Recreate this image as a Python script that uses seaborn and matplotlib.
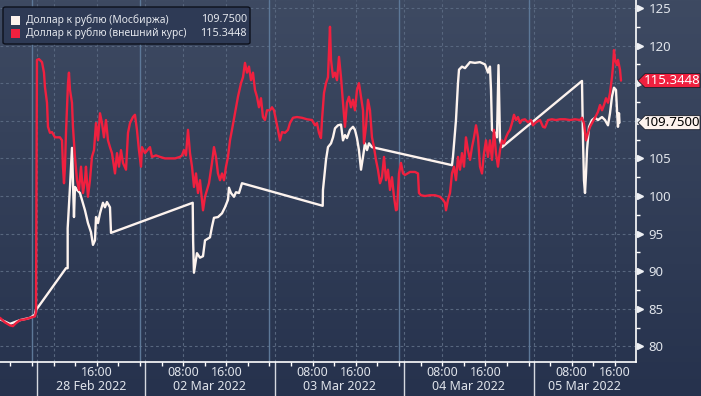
import numpy as np
import pandas as pd
import matplotlib
matplotlib.use("Agg")
import matplotlib.pyplot as plt
import matplotlib.transforms as mtransforms
from matplotlib.patches import Polygon, Rectangle, FancyBboxPatch
import seaborn as sns

# ---------------- data (hours on the session axis; 0 = 02 Mar 00:00) ----------------
moex_t = [-25.9, -24.1, -22.2, -20.4, -19.5, -19.3, -13.71, -13.4, -13.4, -12.97, -12.6, -12.23,
          -12.05, -11.67, -11.12, -10.19, -9.64, -9.08, -8.71, -8.34, -8.15, -7.78, -7.41, -6.86,
          -6.49, -6.12, -5.56, -5.37, 9.77, 9.85, 10.0, 10.56, 11.12, 11.68, 12.05, 12.97, 13.34,
          13.71, 14.45, 15.2, 15.75, 16.31, 16.49, 16.86, 17.42, 17.79, 18.35, 18.9, 33.86, 33.91,
          34.47, 34.84, 35.4, 35.77, 36.14, 36.69, 37.25, 37.62, 37.99, 38.36, 38.92, 39.47, 39.84,
          40.21, 40.58, 40.96, 41.33, 41.7, 42.07, 42.44, 42.99, 57.82, 58.0, 58.56, 58.93, 59.12,
          59.67, 60.23, 61.16, 62.08, 63.0, 63.94, 64.49, 64.86, 65.05, 65.23, 65.79, 66.16, 66.44,
          66.72, 67.09, 81.91, 82.1, 82.28, 82.47, 82.66, 82.84, 83.21, 83.76, 84.32, 84.88, 85.62,
          86.17, 86.73, 87.1, 87.47, 87.84, 88.21, 88.4, 88.58, 88.77, 88.86]
moex_v = [83.6, 83.0, 83.5, 83.8, 84.2, 84.8, 90.4, 90.4, 95.7, 101.2, 106.4, 97.2,
          101.2, 100.8, 100.4, 98.1, 96.4, 95.2, 93.5, 94.1, 97.2, 96.4, 97.7, 99.1,
          98.5, 99.2, 98.5, 95.1, 99.1, 94.0, 89.8, 92.4, 91.8, 92.0, 94.1, 94.5, 95.9,
          97.1, 97.2, 97.7, 98.5, 99.5, 101.1, 100.4, 99.9, 100.5, 100.4, 101.7, 98.7, 100.8,
          104.8, 106.5, 107.0, 107.8, 109.0, 109.4, 109.5, 107.4, 108.1, 107.7, 108.8, 109.2, 108.8,
          107.7, 106.1, 103.5, 105.2, 107.0, 106.1, 107.0, 106.5, 104.1, 105.2, 110.1, 115.0, 116.8,
          117.2, 117.0, 117.8, 117.7, 117.8, 117.5, 116.4, 117.2, 114.1, 108.8, 108.4, 107.8, 117.4,
          107.4, 106.5, 115.3, 107.4, 102.1, 100.4, 103.0, 106.1, 109.2, 110.1, 110.4, 110.1, 110.5,
          110.1, 109.4, 111.0, 113.2, 114.4, 114.1, 111.4, 109.2, 111.0, 109.75]

ext_t = [-25.94, -25.02, -24.09, -23.54, -22.98, -22.24, -21.31, -20.39, -19.46, -19.27, -19.09,
         -18.72, -18.16, -17.79, -17.61, -17.23, -17.05, -16.68, -16.31, -15.75, -14.83, -14.45,
         -14.27, -14.08, -13.9, -13.71, -13.34, -13.16, -12.97, -12.6, -12.42, -12.05, -11.67,
         -11.3, -10.93, -10.56, -10.19, -10.01, -9.64, -9.27, -8.9, -8.52, -8.15, -7.78, -7.41,
         -7.04, -6.67, -6.3, -5.93, -5.56, -5.19, -4.63, -4.26, -3.89, -3.52, -3.15, -2.59, -2.22,
         -1.85, -1.3, -0.93, -0.56, -0.19, 0.19, 0.37, 0.93, 1.85, 2.22, 2.97, 3.71, 4.63, 5.56,
         6.49, 7.41, 7.78, 8.15, 8.52, 8.9, 9.27, 9.64, 10.01, 10.38, 10.75, 11.12, 11.68, 12.05,
         12.42, 12.79, 13.34, 13.71, 14.08, 14.45, 14.83, 15.2, 15.57, 15.94, 16.31, 16.68, 17.05,
         17.61, 18.16, 18.72, 19.09, 19.46, 19.83, 20.2, 20.57, 20.94, 21.31, 21.68, 22.05, 22.42,
         22.79, 23.16, 23.54, 24.09, 24.46, 24.83, 25.2, 25.57, 25.94, 26.32, 26.87, 27.43, 27.8,
         28.35, 29.1, 30.02, 30.95, 31.88, 32.43, 32.8, 33.17, 33.54, 33.73, 34.1, 34.47, 34.84,
         35.21, 35.4, 35.77, 36.14, 36.51, 36.88, 37.25, 37.62, 37.99, 38.36, 38.73, 39.1, 39.47,
         39.84, 40.21, 40.58, 40.96, 41.33, 41.51, 41.88, 42.25, 42.62, 42.99, 43.36, 43.73, 44.1,
         44.48, 44.85, 45.22, 45.59, 45.96, 46.33, 46.7, 47.07, 47.44, 47.63, 48.0, 48.37, 48.74,
         49.11, 50.04, 50.96, 51.52, 51.7, 52.07, 52.82, 53.74, 54.67, 55.6, 56.15, 56.52, 56.71,
         57.08, 57.45, 57.82, 58.19, 58.56, 58.93, 59.3, 59.67, 60.04, 60.41, 60.78, 61.16, 61.53,
         61.9, 62.27, 62.64, 63.01, 63.38, 63.75, 64.12, 64.49, 64.86, 65.23, 65.6, 65.97, 66.34,
         66.72, 67.09, 67.46, 67.83, 68.2, 68.57, 68.94, 69.31, 69.68, 70.05, 70.42, 70.79, 71.34,
         71.9, 72.46, 72.83, 73.38, 74.13, 74.68, 75.05, 75.61, 76.35, 77.09, 77.83, 78.76, 79.69,
         80.61, 81.54, 81.91, 82.28, 82.66, 83.03, 83.4, 83.77, 84.32, 84.88, 85.25, 85.62, 85.99,
         86.36, 86.73, 87.1, 87.47, 87.66, 87.84, 88.03, 88.4, 88.58, 88.95, 89.14]
ext_v = [83.8, 83.2, 82.8, 82.7, 83.1, 83.5, 83.6, 83.8, 84.0, 84.6, 118.1,
         118.2, 117.8, 116.4, 114.5, 112.4, 109.2, 108.4, 108.5, 107.8, 107.8, 107.4,
         103.9, 101.7, 103.9, 108.4, 115.0, 116.4, 114.1, 112.4, 109.2, 105.2, 102.1,
         100.8, 103.9, 100.4, 102.1, 103.9, 99.9, 102.1, 105.2, 106.1, 109.7, 107.4, 111.0,
         109.7, 107.8, 110.1, 107.4, 106.5, 105.7, 103.0, 105.7, 103.9, 106.1, 104.4, 103.5, 108.4,
         109.7, 110.5, 110.8, 108.8, 106.1, 103.9, 106.5, 105.7, 106.5, 105.2, 105.4, 105.2, 105.0, 105.0,
         105.0, 105.2, 105.4, 106.1, 105.4, 108.8, 105.7, 103.9, 101.2, 103.0, 100.4, 102.1, 98.1, 99.9,
         100.8, 101.7, 104.4, 106.5, 105.2, 103.0, 102.1, 103.0, 102.1, 103.9, 105.2, 107.4, 108.8,
         111.0, 113.2, 115.0, 115.8, 117.7, 116.4, 117.2, 115.4, 116.4, 114.1, 113.2, 111.8, 113.0,
         110.5, 110.1, 111.4, 111.4, 111.8, 111.4, 110.1, 108.8, 107.4, 108.5, 108.4, 108.8, 109.7,
         110.4, 110.5, 110.4, 110.2, 110.1, 109.4, 109.7, 108.4, 107.7, 110.1, 113.7, 115.0, 115.8,
         122.5, 118.1, 115.8, 116.4, 115.4, 118.5, 115.8, 112.4, 109.2, 112.4, 113.2, 111.8, 112.8,
         111.4, 114.1, 115.0, 113.2, 111.4, 107.0, 109.2, 112.8, 111.4, 107.8, 106.5, 104.8, 103.5,
         101.7, 102.5, 105.2, 102.1, 103.5, 100.8, 102.5, 99.9, 98.1, 98.2, 103.0, 104.4, 103.0,
         102.8, 103.2, 103.2, 103.0, 100.4, 100.1, 100.0, 100.1, 100.1, 99.9, 99.5, 99.1, 98.1,
         99.5, 100.4, 103.0, 103.9, 102.1, 105.2, 103.5, 105.7, 103.9, 107.8, 106.1, 104.8, 106.5,
         107.8, 109.4, 107.8, 103.9, 103.0, 105.7, 107.4, 105.2, 107.4, 104.8, 108.8, 105.7, 103.9,
         106.1, 107.4, 107.0, 107.8, 108.4, 108.8, 109.7, 110.8, 110.1, 110.5, 109.7, 110.1, 110.2,
         109.8, 110.1, 109.4, 109.8, 110.1, 109.2, 109.1, 110.1, 110.2, 110.1, 110.2, 110.2, 110.1,
         110.2, 110.1, 110.4, 109.7, 107.4, 108.4, 109.2, 109.7, 110.4, 111.2, 112.1, 111.4, 112.1,
         113.0, 112.4, 113.7, 115.8, 117.2, 119.4, 118.1, 117.4, 118.1, 116.8, 115.3448]

series_names = ["Доллар к рублю (Мосбиржа)", "Доллар к рублю (внешний курс)"]
last_values = ["109.7500", "115.3448"]
last_numbers = [109.75, 115.3448]

y_ticks = [80, 85, 90, 95, 100, 105, 110, 115, 120, 125]
y_hidden = [110, 115]  # covered by the last-value tags in the reference
day_starts = [-20, 0, 24, 48, 72]
day_labels = ["28 Feb 2022", "02 Mar 2022", "03 Mar 2022", "04 Mar 2022", "05 Mar 2022"]
time_ticks = [-8, 8, 16, 32, 40, 56, 64, 80, 88]
time_labels = ["16:00", "08:00", "16:00", "08:00", "16:00", "08:00", "16:00", "08:00", "16:00"]
grid_hours = [-16, -8, 8, 16, 32, 40, 56, 64, 80, 88]

# ---------------- styling ----------------
sns.set_theme(style="dark")
plt.rcParams['font.family'] = ['Noto Sans', 'DejaVu Sans']

W, H = 701, 396
fig = plt.figure(figsize=(W / 100, H / 100), dpi=100)

# background gradient
bg = fig.add_axes([0, 0, 1, 1], zorder=-10)
t = np.linspace(0, 1, 256)[:, None, None]
top_c = np.array([62, 74, 98]) / 255
bot_c = np.array([38, 50, 77]) / 255
img = top_c + (bot_c - top_c) * t
img = np.repeat(img, 2, axis=1)
bg.imshow(img, aspect="auto", extent=[0, 1, 0, 1], origin="upper")
bg.set_axis_off()

ax_bottom_px = 362
ax_right_px = 636
ax = fig.add_axes([0, (H - ax_bottom_px) / H, ax_right_px / W, ax_bottom_px / H])
ax.set_facecolor("none")

RED = "#f0203f"
WHITE = "#fdf3ee"

df_w = pd.DataFrame({"t": moex_t, "v": moex_v})
df_r = pd.DataFrame({"t": ext_t, "v": ext_v})
sns.lineplot(data=df_w, x="t", y="v", sort=False, estimator=None, color=WHITE, lw=1.7, ax=ax, zorder=4)
sns.lineplot(data=df_r, x="t", y="v", sort=False, estimator=None, color=RED, lw=1.7, ax=ax, zorder=5)

ax.set_xlim(-25.94, 91.92)
ax.set_ylim(77.93, 126.06)
ax.set_xlabel("")
ax.set_ylabel("")

# grid
GRID = "#58677f"
for yv in y_ticks:
    ax.axhline(yv, color=GRID, lw=0.8, ls=(0, (2.5, 2.5)), zorder=1)
for hv in grid_hours:
    ax.axvline(hv, color=GRID, lw=0.8, ls=(0, (2.5, 2.5)), zorder=1)
for d in day_starts:
    ax.axvline(d, color="#5d7898", lw=1.0, zorder=1)
    ax.axvline(d + 0.93, color=GRID, lw=0.8, ls=(0, (2.5, 2.5)), zorder=1)

# spines
for s in ["left", "top"]:
    ax.spines[s].set_visible(False)
for s in ["right", "bottom"]:
    ax.spines[s].set_visible(True)
    ax.spines[s].set_color("white")
    ax.spines[s].set_linewidth(1.2)

# y axis (right)
ax.yaxis.tick_right()
ax.set_yticks(y_ticks)
ax.set_yticklabels(["" if v in y_hidden else str(v) for v in y_ticks])
ax.set_yticks([v + 2.5 for v in y_ticks[:-1]], minor=True)
ax.tick_params(axis="y", which="major", length=0, pad=9, labelsize=9.5, labelcolor="#dfe3ea",
               right=True, left=False)
ax.tick_params(axis="y", which="minor", length=3, width=1, color="white", direction="out",
               right=True, left=False)
tri_tr = mtransforms.blended_transform_factory(ax.transAxes, ax.transData)
ax.plot([1.006] * len(y_ticks), y_ticks, transform=tri_tr, marker=">", ls="none", ms=4.5,
        color="#eef0f4", clip_on=False, zorder=6)

# x axis ticks every 4 hours
ax.set_xticks(np.arange(-24, 92, 4))
ax.set_xticklabels([])
ax.tick_params(axis="x", which="major", length=3, width=1, color="white", direction="out",
               bottom=True)

xtr = mtransforms.blended_transform_factory(ax.transData, fig.transFigure)
for tt, lab in zip(time_ticks, time_labels):
    ax.text(tt, 1 - 372 / H, lab, transform=xtr, ha="center", va="center", fontsize=9,
            color="#dfe3ea", clip_on=False)
seps = [d + 0.93 for d in day_starts]
bounds = seps + [ax.get_xlim()[1]]
for i, lab in enumerate(day_labels):
    c = (bounds[i] + bounds[i + 1]) / 2
    ax.text(c, 1 - 387 / H, lab, transform=xtr, ha="center", va="center", fontsize=9,
            color="#dfe3ea", clip_on=False)
for sx in seps:
    ax.plot([sx, sx], [1 - ax_bottom_px / H, 0], transform=xtr, color="#d5d9e0", lw=1,
            clip_on=False)

# last-value tags
ytr = mtransforms.blended_transform_factory(fig.transFigure, ax.transData)
hh = 7.0 / 7.52
tags = [(last_numbers[1], last_values[1], RED, "white"), (last_numbers[0], last_values[0], WHITE, "black")]
for val, txt, fc, tc in tags:
    x_tip, x0, x1 = 638 / W, 645 / W, 700 / W
    poly = Polygon([[x_tip, val], [x0, val + hh], [x1, val + hh], [x1, val - hh], [x0, val - hh]],
                   closed=True, transform=ytr, facecolor=fc, edgecolor="#1a1f2b", lw=0.6,
                   clip_on=False, zorder=8)
    fig.add_artist(poly)
    fig.text(672 / W, 0, txt, transform=ytr, ha="center", va="center", fontsize=9.5,
             color=tc, zorder=9).set_y(val)

# legend box
lg = FancyBboxPatch((3 / W, 1 - 44 / H), 247 / W, 37 / H, boxstyle="round,pad=0,rounding_size=0.004",
                    transform=fig.transFigure, facecolor="#2e3a55", edgecolor="#0d111c", lw=1.0,
                    zorder=10)
fig.add_artist(lg)
for i, (name, valtxt, col) in enumerate(zip(series_names, last_values, [WHITE, RED])):
    yc = 20 + 13 * i
    fig.add_artist(Rectangle((11 / W, 1 - (yc + 4.5) / H), 9 / W, 9 / H, transform=fig.transFigure,
                             facecolor=col, edgecolor="none", zorder=11))
    fig.text(26 / W, 1 - yc / H, name, ha="left", va="center", fontsize=7.4, color="#e4e7ed", zorder=11)
    fig.text(247 / W, 1 - yc / H, valtxt, ha="right", va="center", fontsize=7.8, color="#e4e7ed", zorder=11)

fig.savefig("out.png", dpi=100)
